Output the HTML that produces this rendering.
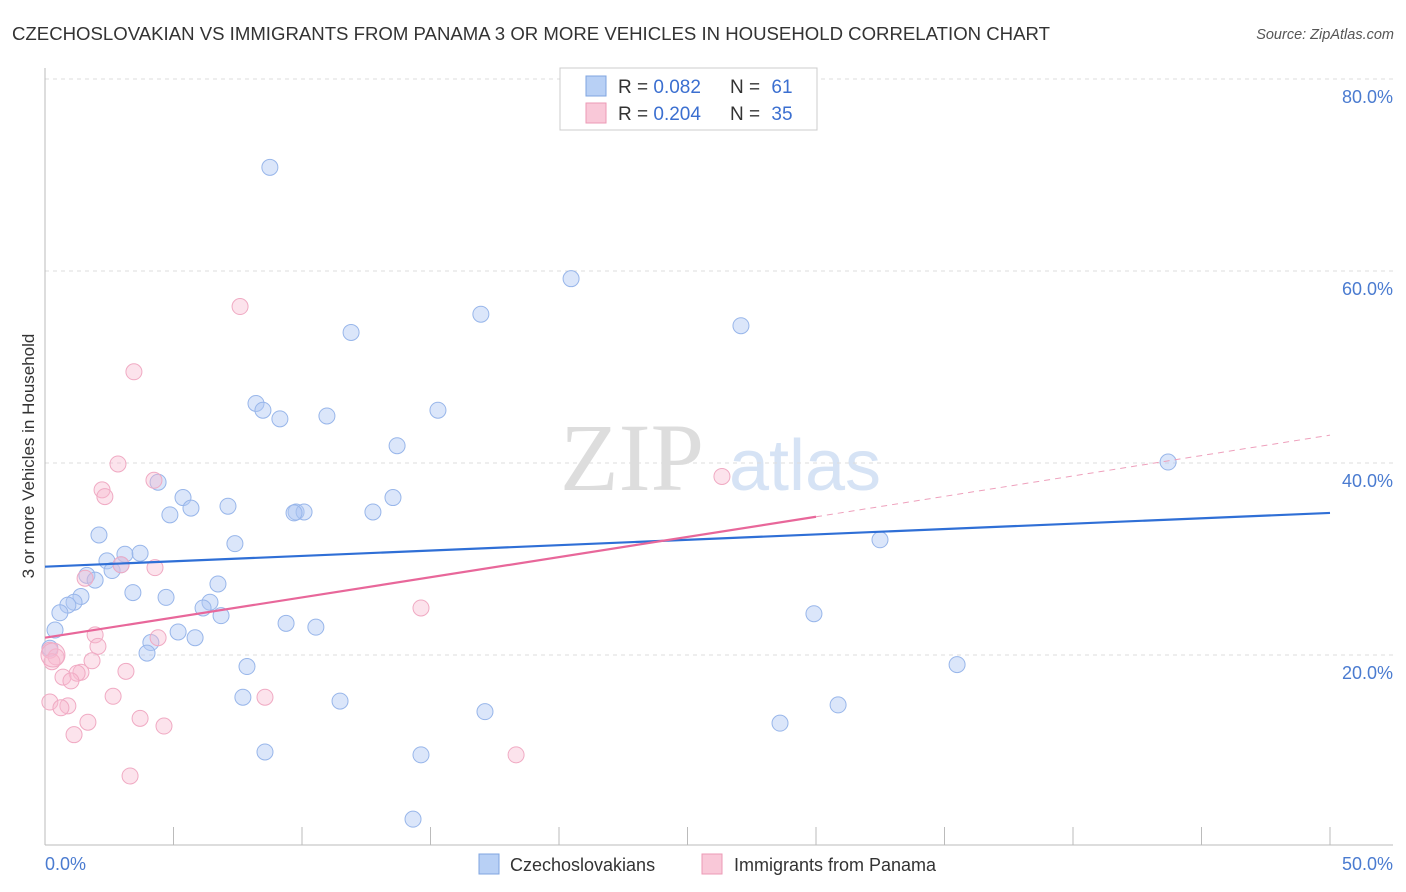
<!DOCTYPE html>
<html><head><meta charset="utf-8">
<style>
body{margin:0;background:#fff;font-family:"Liberation Sans",sans-serif;}
svg{display:block}
</style></head>
<body>
<svg width="1406" height="892" xmlns="http://www.w3.org/2000/svg">
<text x="12" y="40" font-size="18.6" fill="#333">CZECHOSLOVAKIAN VS IMMIGRANTS FROM PANAMA 3 OR MORE VEHICLES IN HOUSEHOLD CORRELATION CHART</text>
<text x="1394" y="39" font-size="14.5" fill="#555" font-style="italic" text-anchor="end">Source: ZipAtlas.com</text>
<text x="632" y="490" font-size="96" fill="#ddd" font-family="Liberation Serif,serif" text-anchor="middle">ZIP</text>
<text x="805" y="490" font-size="72" fill="#d6e3f5" text-anchor="middle">atlas</text>
<g id="grid"></g>
<g id="axes"></g>
<g id="marks"></g>
<text transform="translate(34,456) rotate(-90)" font-size="17" fill="#333" text-anchor="middle">3 or more Vehicles in Household</text>
<g>
<rect x="560" y="68" width="257" height="62" fill="#fff" stroke="#ccc"/>
<rect x="586" y="76" width="20" height="20" fill="#b8d0f5" stroke="#7fa5e0"/>
<text x="618" y="93" font-size="19" fill="#333">R = <tspan fill="#3b6fd0">0.082</tspan></text>
<text x="730" y="93" font-size="19" fill="#333">N = <tspan dx="6" fill="#3b6fd0">61</tspan></text>
<rect x="586" y="103" width="20" height="20" fill="#f9c8d8" stroke="#ec9ab6"/>
<text x="618" y="120" font-size="19" fill="#333">R = <tspan fill="#3b6fd0">0.204</tspan></text>
<text x="730" y="120" font-size="19" fill="#333">N = <tspan dx="6" fill="#3b6fd0">35</tspan></text>
</g>
<g>
<rect x="479" y="854" width="20" height="20" fill="#b8d0f5" stroke="#7fa5e0"/>
<text x="510" y="871" font-size="18" fill="#333">Czechoslovakians</text>
<rect x="702" y="854" width="20" height="20" fill="#f9c8d8" stroke="#ec9ab6"/>
<text x="734" y="871" font-size="18" fill="#333">Immigrants from Panama</text>
</g>
</svg>
<script>
const xTicks=[0,5,10,15,20,25,30,35,40,45,50];
const yTicks=[20,40,60,80];
const yTickLabels=["20.0%","40.0%","60.0%","80.0%"];
const blueX=[8.75,20.47,16.96,27.08,11.91,8.21,8.48,9.14,10.97,15.29,13.70,43.70,4.40,5.37,5.68,4.86,7.12,9.77,10.08,9.69,12.76,13.54,2.10,7.39,32.49,2.41,3.11,3.70,2.61,2.96,1.63,1.95,6.73,3.42,1.40,4.71,1.13,0.89,6.42,6.15,0.58,6.85,29.92,9.38,10.54,5.18,5.84,0.39,4.12,3.97,0.19,7.86,35.49,7.70,11.48,30.86,17.12,28.60,8.56,14.63,14.32];
const blueY=[70.8,59.2,55.5,54.3,53.6,46.2,45.5,44.6,44.9,45.5,41.8,40.1,38.0,36.4,35.3,34.6,35.5,34.9,34.9,34.8,34.9,36.4,32.5,31.6,32.0,29.8,30.5,30.6,28.8,29.4,28.3,27.8,27.4,26.5,26.1,26.0,25.5,25.2,25.5,24.9,24.4,24.1,24.3,23.3,22.9,22.4,21.8,22.6,21.3,20.2,20.7,18.8,19.0,15.6,15.2,14.8,14.1,12.9,9.9,9.6,2.9];
const pinkX=[7.59,3.46,2.84,4.24,2.22,2.33,26.34,4.28,2.96,1.56,1.95,4.40,2.06,0.19,0.43,0.27,1.83,1.40,1.25,3.15,0.70,1.01,14.63,8.56,2.65,0.19,0.89,0.62,3.70,4.63,1.67,1.13,18.33,3.31,0.31];
const pinkY=[56.3,49.5,39.9,38.2,37.2,36.5,38.6,29.1,29.4,28.0,22.1,21.8,20.9,20.5,19.8,19.3,19.4,18.2,18.1,18.3,17.7,17.3,24.9,15.6,15.7,15.1,14.7,14.5,13.4,12.6,13.0,11.7,9.6,7.4,20.0];
const blueTrend=[[0,29.2],[50,34.8]];
const pinkTrend=[[0,21.8],[30,34.4]];
const pinkTrendExt=[[30,34.4],[50,42.9]];

const NS="http://www.w3.org/2000/svg";
const sx=v=>45+v*25.7, sy=v=>847-v*9.6;
function mk(tag,attrs,parent){const e=document.createElementNS(NS,tag);for(const k in attrs)e.setAttribute(k,attrs[k]);document.getElementById(parent).appendChild(e);return e;}
yTicks.forEach((t,i)=>{
  const g=mk('line',{x1:45,x2:1393,y1:sy(t),y2:sy(t),stroke:'#ddd','stroke-dasharray':'4,4'},'grid');
  
  
  const l=mk('text',{x:1393,y:sy(t)+24,'font-size':18,fill:'#4a7bd0','text-anchor':'end'},'axes');
  l.textContent=yTickLabels[i];
  
  
});
const xa=mk('line',{x1:45,x2:1393,y1:845,y2:845,stroke:'#bbb'},'axes');


const ya=mk('line',{x1:45,x2:45,y1:68,y2:845,stroke:'#bbb'},'axes');


xTicks.forEach(t=>{
  const k=mk('line',{x1:sx(t),x2:sx(t),y1:827,y2:845,stroke:'#bbb'},'axes');
  
  
});
const x0=mk('text',{x:45,y:870,'font-size':18,fill:'#4a7bd0'},'axes');x0.textContent='0.0%';


const x1=mk('text',{x:1393,y:870,'font-size':18,fill:'#4a7bd0','text-anchor':'end'},'axes');x1.textContent='50.0%';



blueX.forEach((v,i)=>{
  const c=mk('circle',{cx:sx(v),cy:sy(blueY[i]),r:8,fill:'rgba(175,200,243,0.45)',stroke:'#98b6ea','stroke-width':1},'marks');
  
  
});
pinkX.forEach((v,i)=>{
  const c=mk('circle',{cx:sx(v),cy:sy(pinkY[i]),r:i===pinkX.length-1?12:8,fill:'rgba(247,185,207,0.4)',stroke:'#f0aac3','stroke-width':1},'marks');
  
  
});
const bt=mk('line',{x1:sx(blueTrend[0][0]),y1:sy(blueTrend[0][1]),x2:sx(blueTrend[1][0]),y2:sy(blueTrend[1][1]),stroke:'#2f6fd6','stroke-width':2.2},'marks');


const pt=mk('line',{x1:sx(pinkTrend[0][0]),y1:sy(pinkTrend[0][1]),x2:sx(pinkTrend[1][0]),y2:sy(pinkTrend[1][1]),stroke:'#e8679a','stroke-width':2.2},'marks');


const pe=mk('line',{x1:sx(pinkTrendExt[0][0]),y1:sy(pinkTrendExt[0][1]),x2:sx(pinkTrendExt[1][0]),y2:sy(pinkTrendExt[1][1]),stroke:'#eea0bc','stroke-width':1,'stroke-dasharray':'6,5'},'marks');


</script>
</body></html>
